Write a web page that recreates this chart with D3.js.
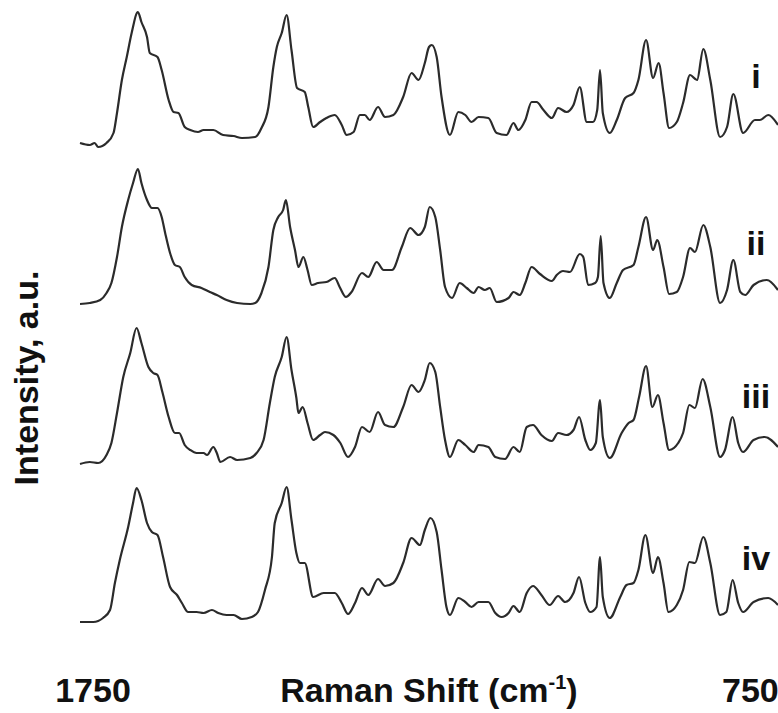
<!DOCTYPE html>
<html>
<head>
<meta charset="utf-8">
<script src="https://cdn.jsdelivr.net/npm/d3@7"></script>
<style>
html,body{margin:0;padding:0;background:#fff;}
svg{display:block;}
text{font-family:"Liberation Sans",Arial,sans-serif;font-weight:bold;fill:#111;}
</style>
</head>
<body>
<svg id="chart" width="778" height="713"></svg>
<script>
// Raman shift (cm^-1) and intensity (a.u.)
const seriesLabels = ["i", "ii", "iii", "iv"];
const xTickLabels = ["1750", "750"];
const xTitle = "Raman Shift (cm";
const yTitle = "Intensity, a.u.";

const shiftI = [1750,1736,1729,1724,1712,1702,1697,1690,1683,1676,1667,1662,1654,1650,1639,1633,1623,1616,1609,1600,1592,1581,1573,1559,1545,1530,1518,1499,1490,1480,1473,1468,1461,1454,1447,1439,1428,1423,1416,1406,1397,1385,1375,1368,1358,1349,1342,1335,1323,1313,1301,1287,1275,1265,1256,1250,1246,1239,1232,1220,1208,1198,1189,1179,1165,1153,1139,1129,1122,1112,1103,1096,1086,1074,1065,1053,1043,1034,1024,1015,1009,1005,1001,991,981,969,957,950,939,929,921,914,906,895,886,876,866,857,847,833,823,814,800,783,776,764,750];
const intensityI = [7,5,7,3,7,17,37,70,93,117,138,128,113,97,93,80,50,38,37,23,20,18,20,20,15,14,12,13,22,43,83,103,117,135,100,62,58,43,23,28,32,35,25,15,18,35,35,30,43,33,35,53,77,70,87,103,105,93,53,15,38,35,28,33,32,17,15,27,20,30,48,48,40,32,42,38,45,63,28,28,40,80,37,17,30,52,57,70,110,72,87,57,22,28,47,75,70,101,70,13,23,56,17,30,30,35,25];

const shiftII = [1750,1736,1721,1712,1705,1697,1690,1681,1674,1667,1662,1654,1647,1639,1633,1628,1621,1614,1607,1600,1590,1576,1564,1554,1540,1525,1506,1499,1490,1480,1473,1466,1459,1455,1449,1442,1437,1430,1424,1418,1409,1397,1385,1378,1369,1361,1346,1337,1325,1315,1303,1289,1277,1265,1256,1249,1241,1234,1227,1217,1206,1196,1186,1179,1170,1163,1153,1136,1129,1120,1112,1103,1091,1074,1067,1058,1048,1034,1029,1022,1012,1008,1004,1000,991,981,972,957,950,939,929,923,914,906,895,886,876,869,857,847,833,823,814,804,797,785,766,750];
const intensityII = [6,7,10,17,27,53,83,110,127,141,127,110,102,102,93,77,57,45,43,33,25,22,18,15,10,7,6,7,17,43,80,93,100,110,83,60,43,53,40,25,27,28,32,23,13,18,37,33,48,40,40,63,82,75,83,103,93,60,23,12,27,22,17,23,20,22,8,12,18,15,27,43,36,29,35,39,38,56,53,25,27,33,74,27,12,27,40,45,63,93,60,70,43,16,18,33,62,58,85,63,7,20,50,18,15,25,30,20];

const shiftIII = [1750,1736,1724,1712,1705,1697,1688,1678,1669,1662,1652,1645,1639,1632,1623,1614,1608,1600,1592,1583,1573,1568,1559,1554,1549,1535,1525,1506,1497,1487,1478,1471,1461,1454,1447,1440,1437,1431,1424,1416,1406,1399,1387,1377,1366,1356,1346,1335,1323,1313,1301,1287,1275,1265,1256,1249,1241,1234,1227,1220,1208,1198,1186,1179,1165,1155,1141,1129,1120,1110,1101,1089,1074,1065,1053,1043,1035,1026,1019,1011,1005,1001,991,974,964,957,949,939,930,922,914,906,893,886,877,869,858,847,833,826,815,807,800,785,769,750];
const intensityIII = [6,8,7,15,27,57,93,117,142,127,103,97,95,78,53,37,37,25,20,17,17,15,23,17,8,13,10,12,17,30,67,93,113,133,100,72,57,63,47,30,35,38,35,27,13,23,43,38,58,45,43,63,85,78,90,107,98,63,30,13,30,25,18,25,23,13,11,23,18,43,45,35,29,37,35,40,53,30,20,27,70,33,12,37,47,50,73,104,63,75,47,20,27,37,65,62,91,63,13,20,53,27,18,30,33,23];

const shiftIV = [1750,1731,1717,1707,1700,1693,1681,1674,1669,1662,1654,1647,1639,1631,1621,1611,1604,1595,1583,1573,1561,1552,1540,1530,1518,1504,1495,1485,1475,1471,1461,1454,1447,1440,1435,1428,1416,1401,1385,1375,1366,1356,1346,1337,1323,1313,1301,1287,1275,1263,1256,1248,1239,1232,1225,1220,1208,1198,1189,1179,1165,1155,1146,1136,1129,1120,1110,1101,1089,1077,1065,1055,1043,1035,1026,1019,1010,1005,1001,991,976,967,957,950,940,929,922,914,907,895,886,877,869,857,847,833,824,815,807,800,785,764,750];
const intensityIV = [8,8,12,20,47,70,103,127,142,130,107,98,95,73,43,35,27,18,18,17,20,17,15,15,11,13,18,40,73,107,127,143,110,77,67,67,33,37,37,27,16,27,42,35,51,44,47,67,92,85,100,112,98,60,23,15,32,28,23,28,28,17,13,17,24,18,37,44,35,25,34,28,37,53,27,18,23,73,33,12,33,45,47,60,95,57,73,47,18,25,40,68,67,93,67,15,18,50,27,18,28,32,25];

const series = [
  {label: seriesLabels[0], x: shiftI, y: intensityI, offset: 480},
  {label: seriesLabels[1], x: shiftII, y: intensityII, offset: 320},
  {label: seriesLabels[2], x: shiftIII, y: intensityIII, offset: 160},
  {label: seriesLabels[3], x: shiftIV, y: intensityIV, offset: 0}
];

const svg = d3.select("#chart");
const x = d3.scaleLinear().domain([1750, 750]).range([80, 778]);
const y = d3.scaleLinear().domain([0, 640]).range([630, -10]);

const line = d3.line()
  .x(d => x(d[0]))
  .y(d => y(d[1]))
  .curve(d3.curveMonotoneX);

series.forEach(s => {
  const pts = s.x.map((v, i) => [v, s.y[i] + s.offset]);
  svg.append("path")
    .datum(pts)
    .attr("d", line)
    .attr("fill", "none")
    .attr("stroke", "#2b2b2b")
    .attr("stroke-width", 2.2)
    .attr("stroke-linejoin", "round");
});

// series labels
const labelPos = [88, 255, 408, 570];
series.forEach((s, i) => {
  svg.append("text")
    .attr("x", 756)
    .attr("y", labelPos[i])
    .attr("text-anchor", "middle")
    .style("font-size", "34px")
    .text(s.label);
});

// x-axis end labels
svg.append("text").attr("x", 93).attr("y", 702).attr("text-anchor", "middle")
  .style("font-size", "34px").text(xTickLabels[0]);
svg.append("text").attr("x", 722).attr("y", 702).attr("text-anchor", "start")
  .style("font-size", "34px").text(xTickLabels[1]);

// x title
const xt = svg.append("text").attr("x", 429).attr("y", 702).attr("text-anchor", "middle")
  .style("font-size", "34px");
xt.append("tspan").text(xTitle);
xt.append("tspan").attr("dy", -13).style("font-size", "20px").text("-1");
xt.append("tspan").attr("dy", 13).text(")");

// y title
svg.append("text")
  .attr("transform", "translate(38,378) rotate(-90)")
  .attr("text-anchor", "middle")
  .style("font-size", "34px")
  .text(yTitle);
</script>
</body>
</html>
